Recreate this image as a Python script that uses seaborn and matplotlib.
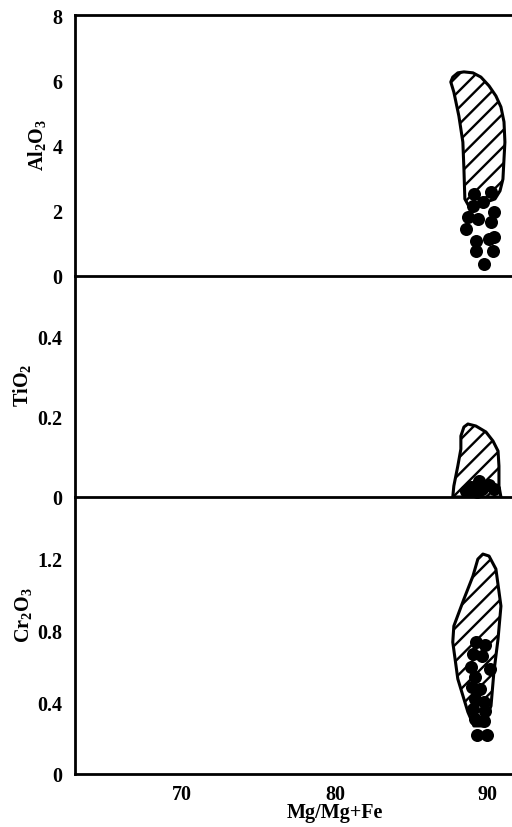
import matplotlib
matplotlib.use('Agg')
import matplotlib.pyplot as plt
import seaborn as sns
import pandas as pd

# ---------------------------------------------------------------------------
# DATA
# ---------------------------------------------------------------------------
# Al2O3 panel: hatched field outline + analysed grains
AL_FIELD_X = [87.57, 87.70, 88.03, 88.43, 89.02, 89.54, 90.07, 90.52, 90.85, 91.05,
              91.11, 91.05, 90.98, 90.79, 90.46, 89.54, 88.75, 88.49, 88.43, 88.36,
              88.1, 87.77]
AL_FIELD_Y = [5.97, 6.12, 6.25, 6.28, 6.25, 6.12, 5.85, 5.54, 5.2, 4.74,
              4.12, 3.6, 2.98, 2.62, 2.37, 2.22, 2.15, 2.37, 3.29, 4.12,
              4.92, 5.66]
AL_X = [89.08, 90.2, 89.02, 89.67, 90.39, 88.69, 89.34, 90.2, 88.56, 90.07,
        89.21, 90.39, 89.21, 90.33, 89.74]
AL_Y = [2.52, 2.58, 2.15, 2.28, 1.97, 1.82, 1.75, 1.66, 1.45, 1.14,
        1.08, 1.2, 0.77, 0.77, 0.37]

# TiO2 panel
TI_FIELD_X = [88.69, 89.21, 89.87, 90.33, 90.66, 90.72, 90.72, 90.85,
              87.7, 87.77, 88.03, 88.23, 88.23, 88.43]
TI_FIELD_Y = [0.1825, 0.1775, 0.1625, 0.14, 0.115, 0.0775, 0.0275, 0.0,
              0.0, 0.0275, 0.0775, 0.12, 0.1525, 0.175]
TI_X = [88.9, 89.44, 90.1, 88.56, 89.64, 90.39, 89.28]
TI_Y = [0.025, 0.04, 0.03, 0.015, 0.02, 0.02, 0.0125]

# Cr2O3 panel
CR_FIELD_X = [89.67, 90.07, 90.52, 90.85, 90.66, 90.39, 90.2, 89.67, 89.08,
              88.69, 88.03, 87.7, 87.77, 88.43, 89.02, 89.34]
CR_FIELD_Y = [1.222, 1.211, 1.139, 0.933, 0.75, 0.567, 0.378, 0.267, 0.267,
              0.344, 0.528, 0.733, 0.822, 0.972, 1.1, 1.194]
CR_X = [89.21, 89.8, 89.02, 89.61, 88.89, 90.13, 89.15, 88.95, 89.48,
        89.15, 89.74, 89.02, 89.8, 89.15, 89.74, 89.28, 89.97]
CR_Y = [0.733, 0.717, 0.667, 0.656, 0.594, 0.583, 0.539, 0.483, 0.472,
        0.417, 0.4, 0.361, 0.35, 0.306, 0.294, 0.217, 0.217]

X_TICKS = [70, 80, 90]
AL_TICKS = [0, 2, 4, 6, 8]
TI_TICKS = [0, 0.2, 0.4]
CR_TICKS = [0, 0.4, 0.8, 1.2]
TICK_LABELS = {
    'al': ['0', '2', '4', '6', '8'],
    'ti': ['0', '0.2', '0.4'],
    'cr': ['0', '0.4', '0.8', '1.2'],
}

# ---------------------------------------------------------------------------
# STYLE
# ---------------------------------------------------------------------------
sns.set_style('white')
plt.rcParams['font.family'] = ['Liberation Serif', 'DejaVu Serif']
plt.rcParams['font.weight'] = 'bold'
plt.rcParams['text.color'] = 'black'
plt.rcParams['xtick.color'] = 'black'
plt.rcParams['ytick.color'] = 'black'
plt.rcParams['mathtext.fontset'] = 'custom'
plt.rcParams['mathtext.rm'] = 'Liberation Serif:bold'
plt.rcParams['mathtext.bf'] = 'Liberation Serif:bold'
plt.rcParams['hatch.linewidth'] = 1.7
FS = 14.5

W, H = 512, 828
fig = plt.figure(figsize=(W / 100, H / 100), dpi=100)


def px_axes(top, bottom):
    # left spine at x=75px, right edge runs off the figure
    a = fig.add_axes([75 / W, (H - bottom) / H, (W - 75) / W + 0.002, (bottom - top) / H])
    a.patch.set_facecolor('none')
    return a


XLIM = (63.0, 91.64)

panels = [
    ('al', px_axes(16, 277), AL_FIELD_X, AL_FIELD_Y, AL_X, AL_Y, (0, 8.03), AL_TICKS),
    ('ti', px_axes(277, 498), TI_FIELD_X, TI_FIELD_Y, TI_X, TI_Y, (0, 0.5525), TI_TICKS),
    ('cr', px_axes(498, 775), CR_FIELD_X, CR_FIELD_Y, CR_X, CR_Y, (0, 1.539), CR_TICKS),
]

for key, ax, fx, fy, dx, dy, ylim, yticks in panels:
    ax.fill(fx, fy, facecolor='white', edgecolor='black', hatch='//',
            linewidth=2.2, joinstyle='round', zorder=2)
    df = pd.DataFrame({'x': dx, 'y': dy})
    sns.scatterplot(data=df, x='x', y='y', ax=ax, color='black', s=88,
                    edgecolor='black', linewidth=0, zorder=3, clip_on=False)
    ax.set_xlim(*XLIM)
    ax.set_ylim(*ylim)
    ax.set_yticks(yticks)
    ax.set_yticklabels(TICK_LABELS[key], fontsize=FS, fontweight='bold', color='black')
    ax.tick_params(axis='both', length=0, pad=9)
    ax.set_xlabel('')
    ax.set_ylabel('')
    for side in ['left', 'bottom', 'top']:
        ax.spines[side].set_linewidth(2.0)
        ax.spines[side].set_color('black')
        ax.spines[side].set_zorder(5)
    ax.spines['right'].set_visible(False)
    if key != 'al':
        ax.spines['top'].set_visible(False)
    if key != 'cr':
        ax.set_xticks([])
    else:
        ax.set_xticks(X_TICKS)
        ax.set_xticklabels([str(t) for t in X_TICKS], fontsize=FS, fontweight='bold', color='black')
        ax.tick_params(axis='x', pad=7)

# axis titles
fig.text(37 / W, 1 - 145 / H, r'$\mathbf{Al_2O_3}$', rotation=90, ha='center', va='center',
         fontsize=FS, color='black')
fig.text(22 / W, 1 - 385 / H, r'$\mathbf{TiO_2}$', rotation=90, ha='center', va='center',
         fontsize=FS, color='black')
fig.text(24 / W, 1 - 615 / H, r'$\mathbf{Cr_2O_3}$', rotation=90, ha='center', va='center',
         fontsize=FS, color='black')
fig.text(335 / W, 1 - 813 / H, 'Mg/Mg+Fe', ha='center', va='center', fontsize=FS,
         fontweight='bold', color='black')

fig.savefig('out.png', dpi=100)
